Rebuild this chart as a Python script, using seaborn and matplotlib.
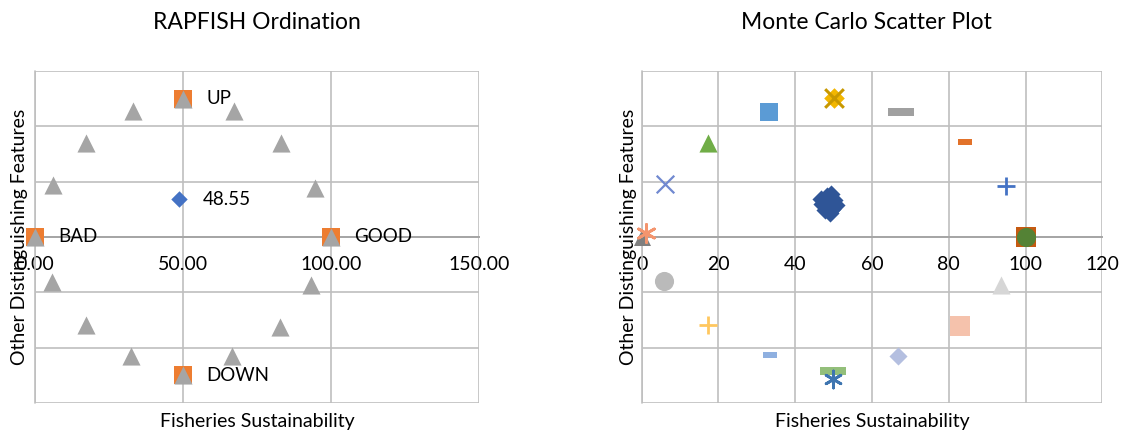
import matplotlib
matplotlib.use("Agg")
import matplotlib.pyplot as plt
import seaborn as sns
import numpy as np
from matplotlib.path import Path

# ---------------- data ----------------
# RAPFISH ordination: anchors
anchor_labels = ["BAD", "GOOD", "UP", "DOWN"]
anchor_x = [0.0, 100.0, 50.0, 50.0]
anchor_y = [0.0, 0.0, 50.0, -50.0]
# reference (intermediate) anchors
ref_x = [0.0, 100.0, 50.0, 50.0, 33.2, 67.2, 17.1, 83.0, 6.0, 94.5, 5.6, 93.3, 17.1, 82.8, 32.3, 66.7]
ref_y = [0.0, 0.0, 50.0, -50.0, 45.5, 45.5, 34.1, 34.1, 18.8, 17.8, -16.2, -17.4, -31.8, -32.4, -43.0, -43.0]
# fisheries status
status_x = [48.55]
status_y = [13.6]
status_label = ["48.55"]

left_xticks = [0, 50, 100, 150]
left_xticklabels = ["0.00", "50.00", "100.00", "150.00"]
right_xticks = [0, 20, 40, 60, 80, 100, 120]
right_xticklabels = ["0", "20", "40", "60", "80", "100", "120"]
yticks = [-60, -40, -20, 0, 20, 40, 60]

# Monte Carlo scatter: one small series per marker group
mc_status_x = [47.0, 48.2, 49.2, 50.2, 47.8, 49.5, 48.6, 50.6, 46.8, 49.0]
mc_status_y = [12.0, 15.0, 15.6, 13.2, 9.8, 10.0, 12.6, 11.6, 13.8, 8.8]
mc_x = {
    "bad_tri": [0.0], "bad_star": [1.0],
    "good_sq": [100.0], "good_circ": [100.0],
    "up_d": [50.2], "up_x": [50.2],
    "down_dash": [49.8], "down_star": [49.9],
    "a1": [33.2], "a2": [67.5], "a3": [17.2], "a4": [84.2], "a5": [6.2], "a6": [94.8],
    "b1": [5.9], "b2": [93.5], "b3": [17.2], "b4": [82.9], "b5": [33.5], "b6": [66.7],
}
mc_y = {
    "bad_tri": [0.0], "bad_star": [1.5],
    "good_sq": [0.0], "good_circ": [0.0],
    "up_d": [50.1], "up_x": [50.1],
    "down_dash": [-48.4], "down_star": [-51.3],
    "a1": [45.3], "a2": [45.1], "a3": [34.1], "a4": [34.4], "a5": [19.0], "a6": [18.4],
    "b1": [-15.9], "b2": [-17.4], "b3": [-31.9], "b4": [-32.1], "b5": [-42.7], "b6": [-43.0],
}

# ---------------- styles ----------------
def rect_marker(w, h):
    return Path([(-w, -h), (w, -h), (w, h), (-w, h), (-w, -h)],
                [Path.MOVETO, Path.LINETO, Path.LINETO, Path.LINETO, Path.CLOSEPOLY])

dash_wide = rect_marker(1.0, 0.28)
dash_small = rect_marker(1.0, 0.4)
star6 = (6, 2, 0)   # asterisk with vertical bar

mc_style = {
    "bad_tri":   dict(marker="^", s=150, color="#7F7F7F", lw=0),
    "bad_star":  dict(marker=star6, s=170, color="#F4956E", lw=2),
    "good_sq":   dict(marker="s", s=190, color="#C55A11", lw=0),
    "good_circ": dict(marker="o", s=190, color="#548235", lw=0),
    "up_d":      dict(marker="D", s=110, color="#F2B600", lw=0),
    "up_x":      dict(marker="x", s=180, color="#C89800", lw=2.2),
    "down_dash": dict(marker=dash_wide, s=330, color="#93BF7A", lw=0),
    "down_star": dict(marker=star6, s=150, color="#3E75B0", lw=2),
    "a1": dict(marker="s", s=170, color="#5B9BD5", lw=0),
    "a2": dict(marker=dash_wide, s=330, color="#A0A0A0", lw=0),
    "a3": dict(marker="^", s=170, color="#70AD47", lw=0),
    "a4": dict(marker=dash_small, s=100, color="#E2722A", lw=0),
    "a5": dict(marker="x", s=160, color="#7189D0", lw=1.6),
    "a6": dict(marker="+", s=180, color="#4472C4", lw=2),
    "b1": dict(marker="o", s=190, color="#BABABA", lw=0),
    "b2": dict(marker="^", s=170, color="#D6D6D6", lw=0),
    "b3": dict(marker="+", s=180, color="#FFC75F", lw=2),
    "b4": dict(marker="s", s=190, color="#F5C2AC", lw=0),
    "b5": dict(marker=dash_small, s=100, color="#8FB0E0", lw=0),
    "b6": dict(marker="D", s=85, color="#B4BFE0", lw=0),
}

# ---------------- figure ----------------
sns.set_theme(style="white")
plt.rcParams["font.family"] = ["Lato", "DejaVu Sans"]

fig = plt.figure(figsize=(11.43, 4.34), dpi=100)
axL = fig.add_axes([35 / 1143, 1 - 403 / 434, 444 / 1143, 332 / 434])
axR = fig.add_axes([641.7 / 1143, 1 - 403 / 434, 460.6 / 1143, 332 / 434])

GRID = "#BFBFBF"


def style_axes(ax, xmax, xticks, xticklabels, title, title_x, ylab_x):
    ax.set_xlim(0, xmax)
    ax.set_ylim(-60, 60)
    ax.set_xticks(xticks)
    ax.set_xticklabels(xticklabels)
    ax.set_yticks(yticks)
    ax.set_yticklabels([])
    ax.grid(True, color=GRID, lw=1.2)
    ax.set_axisbelow(True)
    for side in ["left", "right", "top"]:
        ax.spines[side].set_visible(False)
    ax.spines["bottom"].set_position(("data", 0))
    ax.spines["bottom"].set_color("#A6A6A6")
    ax.spines["bottom"].set_linewidth(1.4)
    ax.tick_params(axis="both", length=0)
    ax.tick_params(axis="x", pad=14, labelsize=14, labelcolor="#000000")
    ax.set_title(title, fontsize=16.5, pad=30, color="#000000", x=title_x)
    ax.set_xlabel("Fisheries Sustainability", fontsize=14, color="#000000")
    ax.xaxis.set_label_coords(0.5, -0.03)
    ax.set_ylabel("Other Distinguishing Features", fontsize=14, color="#000000")
    ax.yaxis.set_label_coords(ylab_x, 0.5)


style_axes(axL, 150, left_xticks, left_xticklabels, "RAPFISH Ordination", 0.5, -0.016)
style_axes(axR, 120, right_xticks, right_xticklabels, "Monte Carlo Scatter Plot", 0.487, -0.01)

# ----- left: RAPFISH ordination -----
sns.scatterplot(x=anchor_x, y=anchor_y, ax=axL, marker="s", s=160,
                color="#ED7D31", linewidth=0, zorder=3, clip_on=False)
sns.scatterplot(x=ref_x, y=ref_y, ax=axL, marker="^", s=170,
                color="#A5A5A5", linewidth=0, zorder=4, clip_on=False)
sns.scatterplot(x=status_x, y=status_y, ax=axL, marker="D", s=70,
                color="#4472C4", linewidth=0, zorder=5, clip_on=False)
for lab, x, y in zip(anchor_labels, anchor_x, anchor_y):
    axL.annotate(lab, (x, y), xytext=(17, 0), textcoords="offset points",
                 ha="left", va="center", fontsize=13.5, color="#000000", zorder=6)
for lab, x, y in zip(status_label, status_x, status_y):
    axL.annotate(lab, (x, y), xytext=(17, 0), textcoords="offset points",
                 ha="left", va="center", fontsize=13.5, color="#000000", zorder=6)

# ----- right: Monte Carlo -----
sns.scatterplot(x=mc_status_x, y=mc_status_y, ax=axR, marker="D", s=85,
                color="#2F5597", linewidth=0, zorder=4, clip_on=False)
for key in mc_x:
    st = mc_style[key]
    sns.scatterplot(x=mc_x[key], y=mc_y[key], ax=axR, marker=st["marker"], s=st["s"],
                    color=st["color"], linewidth=st["lw"], edgecolor=st["color"],
                    zorder=5, clip_on=False)

for ax in (axL, axR):
    ax.set_ylim(-60, 60)
    ax.plot([0, 0], [-60, 60], color=GRID, lw=1.2, zorder=1, clip_on=False)

fig.savefig("out.png", dpi=100)
